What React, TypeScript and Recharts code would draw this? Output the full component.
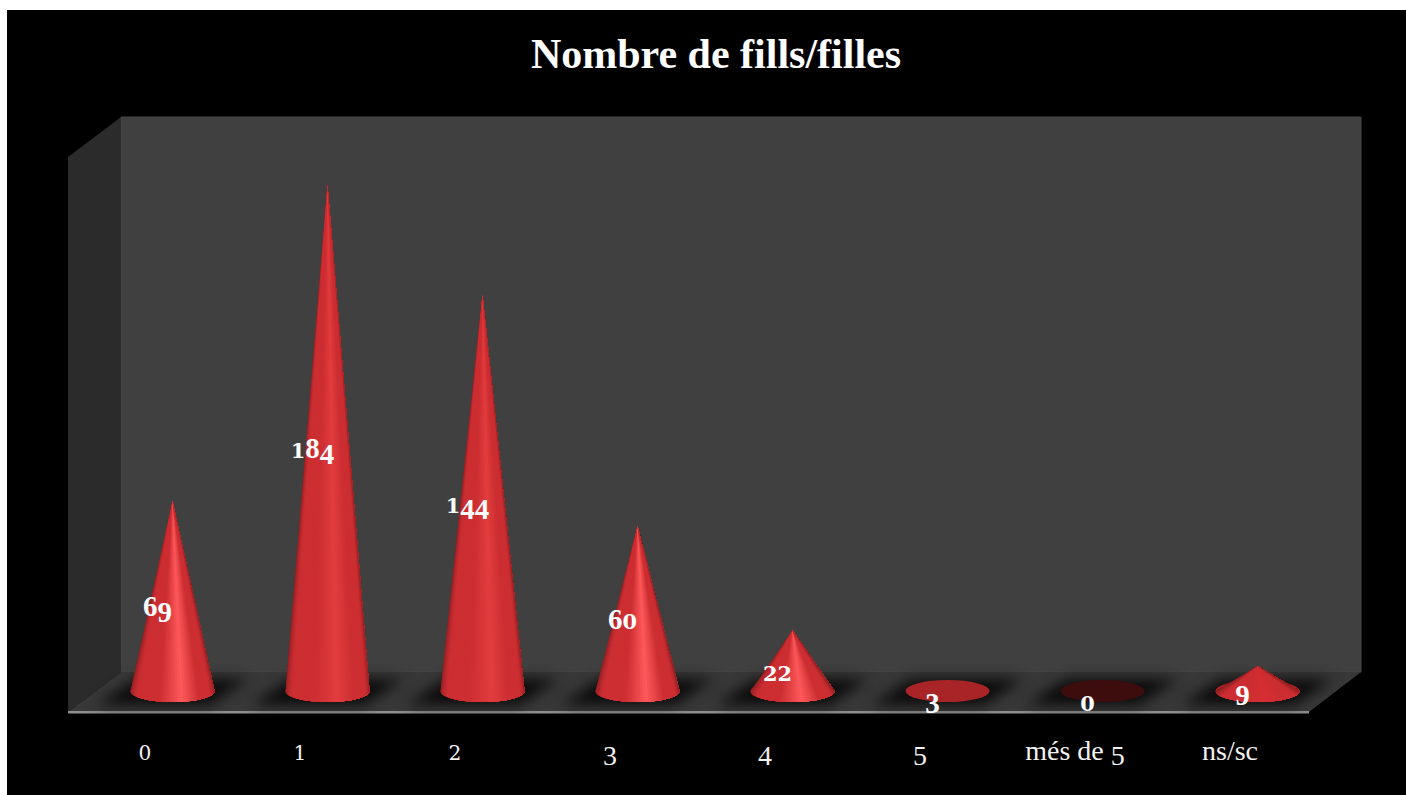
import { Bar, BarChart, LabelList, XAxis, YAxis } from "recharts";

const categories = ["0", "1", "2", "3", "4", "5", "més de 5", "ns/sc"];
const counts = [69, 184, 144, 60, 22, 3, 0, 9];

const rows = categories.map((category, i) => ({ category, count: counts[i] }));

const serif = "'Liberation Serif', serif";
const coneDepth = 11;
const fanSteps = 48;

function mix(a: number[], b: number[], t: number) {
  return `rgb(${a.map((v, i) => Math.round(v + (b[i] - v) * t)).join(",")})`;
}

// shade across the cone, t runs from the left edge (0) to the right edge (1)
function coneColor(t: number, shine: number[]) {
  const edge = [138, 30, 32];
  const body = [204, 46, 50];
  if (t < 0.18) return mix(edge, body, t / 0.18);
  if (t < 0.4) return mix(body, body, 0);
  if (t < 0.57) return mix(body, shine, (t - 0.4) / 0.17);
  if (t < 0.72) return mix(shine, body, (t - 0.57) / 0.15);
  if (t < 0.86) return mix(body, body, 0);
  return mix(body, edge, (t - 0.86) / 0.14);
}

function shineFor(height: number) {
  if (height > 300) return [226, 60, 62];
  if (height < 40) return [214, 46, 50];
  return [254, 88, 90];
}

function Cone(props: any) {
  const { x, y, width, height, payload } = props;
  const cx = x + width / 2;
  const rx = width / 2;
  const baseY = y + height;
  const flat = height < coneDepth;
  const arc: string[] = [];
  for (let i = 0; i <= fanSteps; i++) {
    const a = Math.PI * (i / fanSteps);
    arc.push(`${cx - rx * Math.cos(a)},${baseY + coneDepth * Math.sin(a)}`);
  }
  // each slice runs to the right edge and the next paints over it, so no seams
  const slices = [];
  if (!flat) {
    const shine = shineFor(height);
    for (let i = 0; i < fanSteps; i++) {
      slices.push(
        <polygon
          key={i}
          points={`${cx},${y} ${arc.slice(i).join(" ")}`}
          fill={coneColor((i + 0.5) / fanSteps, shine)}
        />,
      );
    }
  }
  const capFill = payload.count === 0 ? "#3d0c0d" : "#a82426";
  return (
    <g>
      <polygon
        points={`${cx - 76},${baseY + 14} ${cx - 36},${baseY - 12} ${cx + 76},${baseY - 12} ${cx + 36},${baseY + 14}`}
        fill="#0a0a0a"
        filter="url(#floorBlur)"
      />
      <ellipse cx={cx} cy={baseY} rx={rx} ry={coneDepth} fill={capFill} />
      {slices}
    </g>
  );
}

// old-style figures: the installed serifs only have lining digits
function digitSpans(text: string, fontSize: number) {
  return text.split("").map((ch, i) => {
    if ("012".includes(ch)) {
      return (
        <tspan key={i} fontFamily="'DejaVu Serif', serif" fontSize={fontSize * 0.72}>
          {ch}
        </tspan>
      );
    }
    if ("34579".includes(ch)) {
      return (
        <tspan key={i} baselineShift={-fontSize * 0.19}>
          {ch}
        </tspan>
      );
    }
    return <tspan key={i}>{ch}</tspan>;
  });
}

function CountLabel(props: any) {
  const { x, y, width, height, value } = props;
  return (
    <text
      x={x + width / 2 - 15}
      y={y + height / 2 + 20}
      textAnchor="middle"
      fill="#ffffff"
      fontFamily={serif}
      fontWeight={700}
      fontSize={29}
    >
      {digitSpans(String(value), 29)}
    </text>
  );
}

function CategoryTick(props: any) {
  const { x, y, payload } = props;
  return (
    <text
      x={x - 27}
      y={y + 61}
      textAnchor="middle"
      fill="#f2f2f2"
      fontFamily={serif}
      fontSize={28}
    >
      {digitSpans(payload.value, 28)}
    </text>
  );
}

export default function App() {
  return (
    <div
      style={{
        position: "absolute",
        left: 0,
        top: 0,
        width: 1406,
        height: 795,
        background: "#ffffff",
        overflow: "hidden",
      }}
    >
      <div style={{ position: "absolute", left: 7, top: 10, background: "#000000" }}>
        <BarChart
          width={1399}
          height={785}
          data={rows}
          margin={{ top: 131, right: 71.5, bottom: 0, left: 87.5 }}
        >
          <defs>
            <filter
              id="floorBlur"
              x="-30%"
              y="-60%"
              width="160%"
              height="220%"
              colorInterpolationFilters="sRGB"
            >
              <feGaussianBlur stdDeviation="7" />
            </filter>
          </defs>
          {/* box behind the plot: back wall, side wall, floor, front edge */}
          <polygon points="114,107 1354,107 1354,662 114,662" fill="#404040" stroke="#464646" />
          <polygon points="61,147 114,107 114,662 61,702" fill="#2b2b2b" />
          <polygon points="61,702 114,662 1354,662 1302,702" fill="#383838" />
          <text
            x={709}
            y={58}
            textAnchor="middle"
            fill="#ffffff"
            fontFamily={serif}
            fontWeight={700}
            fontSize={42}
          >
            Nombre de fills/filles
          </text>
          <XAxis
            dataKey="category"
            height={104}
            axisLine={false}
            tickLine={false}
            interval={0}
            tick={<CategoryTick />}
          />
          <YAxis hide domain={[0, 200]} />
          <Bar
            dataKey="count"
            barSize={84}
            shape={<Cone />}
            isAnimationActive={false}
          >
            <LabelList dataKey="count" content={<CountLabel />} />
          </Bar>
          <rect x={61} y={701} width={1241} height={2.5} fill="#8f8f8f" />
        </BarChart>
      </div>
    </div>
  );
}
